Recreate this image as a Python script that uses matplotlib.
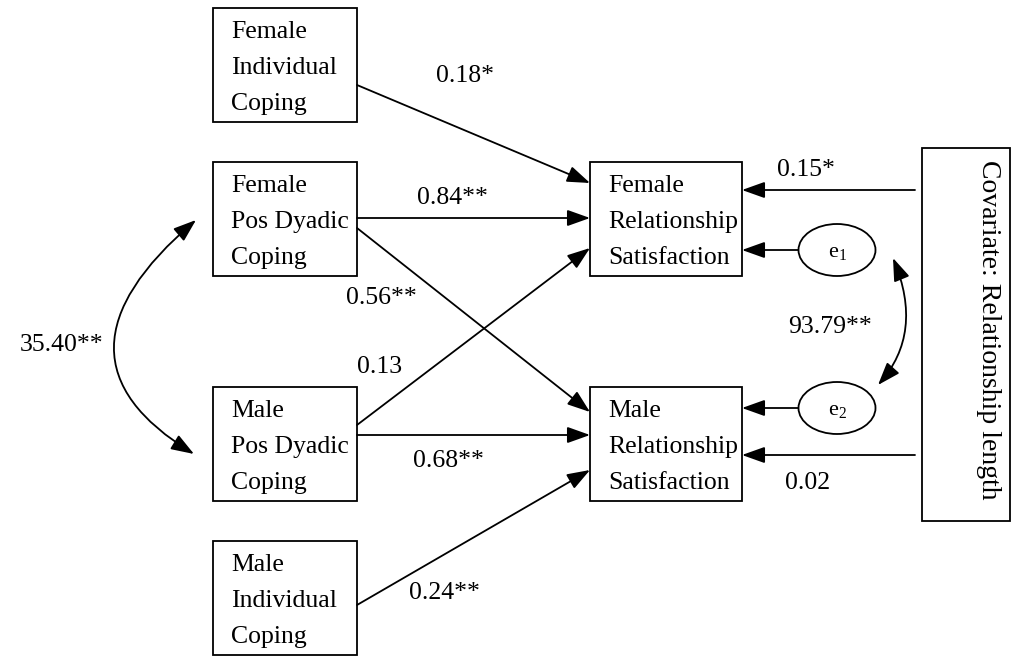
import matplotlib
matplotlib.use('Agg')
import matplotlib.pyplot as plt
from matplotlib.patches import Rectangle, Ellipse, FancyArrowPatch
from matplotlib.path import Path

plt.rcParams['font.family'] = ['Liberation Serif', 'DejaVu Serif']
plt.rcParams['mathtext.fontset'] = 'custom'
plt.rcParams['mathtext.rm'] = 'Liberation Serif'

# node labels
box_names = ['FIC', 'FPDC', 'MPDC', 'MIC', 'FRS', 'MRS']
box_labels = ['Female\nIndividual\nCoping', 'Female\nPos Dyadic\nCoping',
              'Male\nPos Dyadic\nCoping', 'Male\nIndividual\nCoping',
              'Female\nRelationship\nSatisfaction', 'Male\nRelationship\nSatisfaction']
covariate_label = 'Covariate: Relationship length'
error_labels = [r'$\mathregular{e_1}$', r'$\mathregular{e_2}$']

# path coefficients
path_labels = ['0.18*', '0.84**', '0.56**', '0.13', '0.68**', '0.24**', '0.15*', '0.02']
cov_labels = ['35.40**', '93.79**']

# layout (pixel coords, y down)
box_xy = {'FIC': (213, 8), 'FPDC': (213, 162), 'MPDC': (213, 387), 'MIC': (213, 541),
          'FRS': (590, 162), 'MRS': (590, 387)}
box_w = {'FIC': 144, 'FPDC': 144, 'MPDC': 144, 'MIC': 144, 'FRS': 152, 'MRS': 152}
box_h = 114

fig = plt.figure(figsize=(10.16, 6.58), dpi=100)
ax = fig.add_axes([0, 0, 1, 1])
ax.set_xlim(0, 1016)
ax.set_ylim(658, 0)
ax.axis('off')

fs = 18.5
lw = 1.3

for name, lab in zip(box_names, box_labels):
    x, y = box_xy[name]
    ax.add_patch(Rectangle((x, y), box_w[name], box_h, fill=False, lw=lw, ec='black'))
    ax.text(x + 18, y + box_h / 2 + 3, lab, ha='left', va='center', fontsize=fs, linespacing=1.85)

# covariate box
ax.add_patch(Rectangle((922, 148), 88, 373, fill=False, lw=lw, ec='black'))
ax.text(989, 330, covariate_label, rotation=-90, ha='center', va='center', fontsize=fs + 1.5)

# error terms
err_xy = [(837, 250), (837, 408)]
for (cx, cy), lab in zip(err_xy, error_labels):
    ax.add_patch(Ellipse((cx, cy), 77, 52, fill=False, lw=lw, ec='black'))
    ax.text(cx, cy + 2, lab, ha='center', va='center', fontsize=16)

style = '-|>,head_length=0.7,head_width=0.25'


def arrow(p0, p1):
    ax.add_patch(FancyArrowPatch(p0, p1, arrowstyle=style, mutation_scale=20, lw=lw,
                                 color='black', shrinkA=0, shrinkB=0))


arrow((357, 85), (590, 183))
arrow((357, 218), (590, 218))
arrow((357, 228), (590, 412))
arrow((357, 425), (590, 248))
arrow((357, 435), (590, 435))
arrow((357, 605), (590, 470))
arrow((915, 190), (742, 190))
arrow((915, 455), (742, 455))
arrow((798, 250), (742, 250))
arrow((798, 408), (742, 408))

label_xy = [(465, 76), (452, 198), (381, 298), (380, 367), (448, 461), (444, 593), (806, 170), (808, 483)]
for (x, y), lab in zip(label_xy, path_labels):
    ax.text(x, y, lab, ha='center', va='center', fontsize=fs)

# covariance curves
dstyle = '<|-|>,head_length=0.7,head_width=0.25'
curves = [[(196, 220), (35, 357), (194, 454)], [(893, 258), (924, 333), (878, 385)]]
for pts in curves:
    pth = Path(pts, [Path.MOVETO, Path.CURVE3, Path.CURVE3])
    ax.add_patch(FancyArrowPatch(path=pth, arrowstyle=dstyle, mutation_scale=20, lw=lw,
                                 color='black', shrinkA=0, shrinkB=0))

ax.text(62, 345, cov_labels[0], ha='center', va='center', fontsize=fs)
ax.text(830, 327, cov_labels[1], ha='center', va='center', fontsize=fs)

fig.savefig('out.png', dpi=100)
